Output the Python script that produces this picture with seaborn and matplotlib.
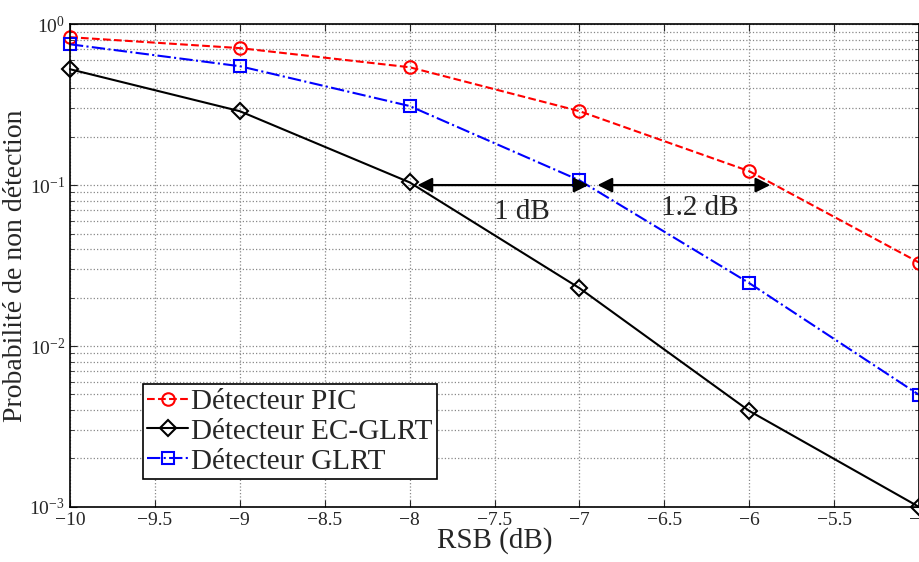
import numpy as np
import pandas as pd
import matplotlib
matplotlib.use('Agg')
import matplotlib.pyplot as plt
import seaborn as sns
from matplotlib.ticker import LogLocator, NullFormatter

sns.set_style('ticks')
plt.rcParams['font.family'] = ['Liberation Serif', 'DejaVu Serif']
plt.rcParams['mathtext.fontset'] = 'stix'

# data
rsb = [-10, -9, -8, -7, -6, -5]
pic = [0.83, 0.71, 0.54, 0.288, 0.122, 0.033]
ec_glrt = [0.525, 0.288, 0.104, 0.0229, 0.00395, 0.001]
glrt = [0.75, 0.548, 0.31, 0.107, 0.0246, 0.00497]
xticks = [-10, -9.5, -9, -8.5, -8, -7.5, -7, -6.5, -6, -5.5, -5]
xticklabels = ['−10', '−9.5', '−9', '−8.5', '−8', '−7.5', '−7', '−6.5', '−6', '−5.5', '−5']

df = pd.DataFrame({'rsb': rsb, 'pic': pic, 'ec': ec_glrt, 'glrt': glrt})

fig = plt.figure(figsize=(9.2, 5.62), dpi=100)
ax = fig.add_axes([0.076, 0.098, 0.923, 0.859])

sns.lineplot(x='rsb', y='pic', data=df, ax=ax, color='red', linestyle='--',
             marker='o', markersize=9, markerfacecolor='none', markeredgecolor='red',
             markeredgewidth=1.5, linewidth=1.5, label='Détecteur PIC', clip_on=False)
sns.lineplot(x='rsb', y='ec', data=df, ax=ax, color='black', linestyle='-',
             marker='D', markersize=8, markerfacecolor='none', markeredgecolor='black',
             markeredgewidth=1.5, linewidth=1.5, label='Détecteur EC-GLRT', clip_on=False)
sns.lineplot(x='rsb', y='glrt', data=df, ax=ax, color='blue', linestyle='-.',
             marker='s', markersize=8, markerfacecolor='none', markeredgecolor='blue',
             markeredgewidth=1.5, linewidth=1.5, label='Détecteur GLRT', clip_on=False)

ax.set_yscale('log')
ax.set_xlim(-10, -5)
ax.set_ylim(1e-3, 1)
ax.set_xticks(xticks)
ax.set_xticklabels(xticklabels)
ax.yaxis.set_major_locator(LogLocator(base=10, numticks=10))
ax.yaxis.set_minor_locator(LogLocator(base=10, subs=np.arange(2, 10), numticks=20))
ax.yaxis.set_minor_formatter(NullFormatter())

ax.grid(True, which='major', linestyle=':', color='#888888', linewidth=0.9)
ax.grid(True, which='minor', axis='y', linestyle=':', color='#888888', linewidth=0.9)
ax.tick_params(which='both', direction='in', top=True, right=True, labelsize=14)
ax.tick_params(which='major', length=5)
ax.tick_params(which='minor', length=3)
for s in ax.spines.values():
    s.set_linewidth(1.2)
    s.set_color('black')

ax.set_xlabel('RSB (dB)', fontsize=21, labelpad=-1)
ax.set_ylabel('Probabilité de non détection', fontsize=20, labelpad=1)

# annotation arrows
arrow = dict(arrowstyle='<|-|>', color='black', lw=1.6, mutation_scale=22)
ax.annotate('', xy=(-7.97, 0.1), xytext=(-6.93, 0.1), arrowprops=arrow)
ax.annotate('', xy=(-6.91, 0.1), xytext=(-5.86, 0.1), arrowprops=arrow)
ax.text(-7.34, 0.068, '1 dB', fontsize=21, ha='center', va='center')
ax.text(-6.29, 0.072, '1.2 dB', fontsize=21, ha='center', va='center')

leg = ax.legend(loc='lower left', bbox_to_anchor=(0.086, 0.058), fontsize=21,
                frameon=True, fancybox=False, handlelength=1.4, handletextpad=0.1,
                borderpad=0.15, labelspacing=0.12, borderaxespad=0)
leg.get_frame().set_edgecolor('black')
leg.get_frame().set_linewidth(1.2)
leg.get_frame().set_alpha(1)

fig.savefig('out.png', dpi=100)
